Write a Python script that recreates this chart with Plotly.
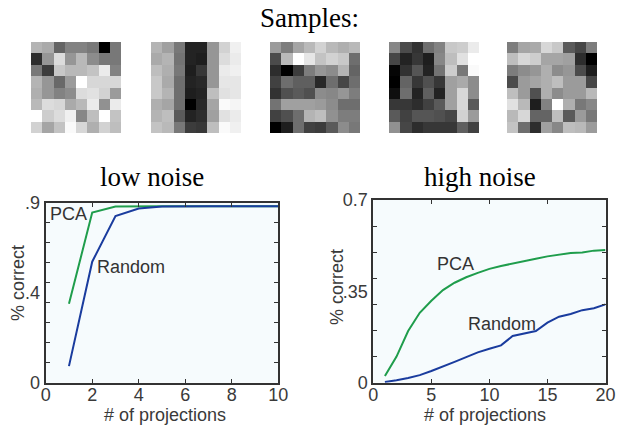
import plotly.graph_objects as go

# ---------------- data ----------------
sample1 = [
    [180, 170, 100, 130, 130, 120, 0, 120],
    [45, 150, 220, 150, 185, 140, 120, 120],
    [120, 60, 200, 185, 185, 195, 235, 130],
    [180, 150, 105, 155, 255, 215, 215, 215],
    [175, 150, 130, 140, 220, 225, 210, 155],
    [185, 220, 215, 170, 185, 235, 145, 235],
    [255, 205, 220, 240, 135, 190, 255, 195],
    [210, 165, 195, 250, 215, 175, 210, 190],
]
sample2 = [
    [180, 160, 120, 35, 35, 150, 210, 240],
    [170, 180, 115, 35, 30, 150, 220, 235],
    [190, 175, 120, 30, 55, 150, 235, 240],
    [200, 170, 110, 35, 40, 150, 230, 230],
    [200, 180, 110, 30, 35, 190, 225, 230],
    [175, 165, 110, 0, 40, 165, 250, 245],
    [180, 190, 90, 35, 45, 160, 225, 235],
    [195, 185, 120, 60, 55, 190, 250, 240],
]
sample3 = [
    [155, 125, 165, 185, 210, 185, 175, 185],
    [75, 185, 255, 230, 195, 210, 200, 110],
    [45, 0, 60, 125, 150, 140, 180, 100],
    [65, 110, 95, 95, 40, 110, 70, 110],
    [50, 80, 90, 80, 140, 135, 150, 125],
    [115, 160, 160, 160, 155, 140, 110, 110],
    [65, 80, 110, 180, 190, 145, 125, 125],
    [0, 30, 110, 65, 60, 90, 140, 120],
]
sample4 = [
    [135, 75, 50, 110, 130, 200, 205, 235],
    [70, 35, 55, 30, 135, 190, 225, 255],
    [5, 50, 85, 35, 115, 205, 120, 250],
    [0, 100, 55, 80, 55, 160, 170, 140],
    [15, 110, 35, 95, 35, 160, 215, 140],
    [55, 55, 45, 65, 90, 160, 215, 90],
    [90, 65, 85, 85, 80, 70, 210, 155],
    [145, 70, 45, 55, 55, 55, 95, 65],
]
sample5 = [
    [125, 165, 170, 215, 200, 90, 70, 125],
    [190, 215, 205, 165, 165, 160, 45, 0],
    [125, 140, 150, 175, 140, 150, 75, 30],
    [75, 155, 165, 175, 190, 155, 155, 70],
    [190, 155, 80, 175, 140, 155, 155, 185],
    [225, 185, 30, 130, 255, 175, 120, 135],
    [185, 215, 100, 100, 190, 90, 155, 120],
    [195, 110, 45, 160, 135, 190, 185, 155],
]

low_x = [1, 2, 3, 4, 5, 6, 7, 8, 9, 10]
low_pca = [0.395, 0.852, 0.882, 0.884, 0.884, 0.884, 0.884, 0.884, 0.884, 0.884]
low_random = [0.083, 0.606, 0.835, 0.872, 0.882, 0.884, 0.884, 0.884, 0.884, 0.884]

high_x = list(range(1, 21))
high_pca = [0.026, 0.100, 0.198, 0.268, 0.314, 0.355, 0.383, 0.404, 0.421, 0.436,
            0.447, 0.457, 0.467, 0.475, 0.484, 0.490, 0.497, 0.499, 0.506, 0.508]
high_random = [0.003, 0.009, 0.018, 0.029, 0.045, 0.061, 0.080, 0.098, 0.116, 0.130,
               0.143, 0.179, 0.189, 0.198, 0.230, 0.253, 0.263, 0.278, 0.285, 0.300]

low_xticks = [0, 2, 4, 6, 8, 10]
low_yticks = [0, 0.45, 0.9]
low_yticktext = ["0", ".4", ".9"]
high_xticks = [0, 5, 10, 15, 20]
high_yticks = [0, 0.35, 0.7]
high_yticktext = ["0", ".35", "0.7"]

# ---------------- layout helpers ----------------
W, H = 618, 426
GREEN = "#1f9d4c"
BLUE = "#1a3c9e"
FRAME = "#333333"
BG = "#f6fbfd"
SANS = "Liberation Sans, Arial, sans-serif"
SERIF = "Liberation Serif, Times New Roman, serif"
TXT = "#3a3a3a"

def px(x):
    return x / W

def py(y):
    return (H - y) / H

fig = go.Figure()

# sample images
samples = [sample1, sample2, sample3, sample4, sample5]
starts = [31, 151, 270, 389, 507]
for i, (s, x0) in enumerate(zip(samples, starts)):
    k = i + 3
    fig.add_trace(go.Heatmap(
        z=s, colorscale=[[0, "black"], [1, "white"]], zmin=0, zmax=255,
        showscale=False, xaxis=f"x{k}", yaxis=f"y{k}", hoverinfo="skip"))
    fig.update_layout(**{
        f"xaxis{k}": dict(domain=[px(x0), px(x0 + 90)], visible=False, automargin=False,
                          range=[-0.5, 7.5], anchor=f"y{k}", fixedrange=True),
        f"yaxis{k}": dict(domain=[py(133), py(42)], visible=False, automargin=False,
                          range=[7.5, -0.5], anchor=f"x{k}", fixedrange=True),
    })

# curves
fig.add_trace(go.Scatter(x=low_x, y=low_pca, mode="lines",
                         line=dict(color=GREEN, width=2), xaxis="x", yaxis="y"))
fig.add_trace(go.Scatter(x=low_x, y=low_random, mode="lines",
                         line=dict(color=BLUE, width=2), xaxis="x", yaxis="y"))
fig.add_trace(go.Scatter(x=high_x, y=high_pca, mode="lines",
                         line=dict(color=GREEN, width=2), xaxis="x2", yaxis="y2"))
fig.add_trace(go.Scatter(x=high_x, y=high_random, mode="lines",
                         line=dict(color=BLUE, width=2), xaxis="x2", yaxis="y2"))

axis_common = dict(showline=True, linecolor=FRAME, linewidth=2, mirror="ticks",
                   showgrid=False, zeroline=False, ticks="inside", ticklen=4,
                   tickcolor=FRAME, fixedrange=True, automargin=False)
xfont = dict(family=SANS, size=18, color=TXT)
yfont = dict(family=SANS, size=18, color=TXT)
yminor = dict(dtick=0.1, tick0=0, ticks="inside", ticklen=4, tickcolor=FRAME)

fig.update_layout(
    xaxis=dict(axis_common, domain=[px(45.7), px(278.3)], range=[0, 10],
               tickvals=low_xticks, anchor="y", ticklabelstandoff=-5, tickfont=xfont),
    yaxis=dict(axis_common, domain=[py(382.7), py(203)], range=[0, 0.9],
               tickvals=low_yticks, ticktext=low_yticktext, ticklen=0, anchor="x",
               ticklabelstandoff=0, tickfont=yfont, minor=yminor),
    xaxis2=dict(axis_common, domain=[px(373.3), px(605.5)], range=[0, 20],
                tickvals=high_xticks, anchor="y2", ticklabelstandoff=-5, tickfont=xfont),
    yaxis2=dict(axis_common, domain=[py(382.7), py(200)], range=[0, 0.7],
                tickvals=high_yticks, ticktext=high_yticktext, ticklen=0, anchor="x2",
                ticklabelstandoff=0, tickfont=yfont, minor=yminor),
)

annotations = [
    # titles
    dict(text="Samples:", x=px(309), y=py(18), font=dict(family=SERIF, size=27, color="black")),
    dict(text="low noise", x=px(152), y=py(177), font=dict(family=SERIF, size=27, color="black")),
    dict(text="high noise", x=px(480), y=py(177), font=dict(family=SERIF, size=27, color="black")),
    # axis titles
    dict(text="% correct", x=px(18), y=py(283), textangle=-90,
         font=dict(family=SANS, size=18, color=TXT)),
    dict(text="% correct", x=px(337), y=py(287), textangle=-90,
         font=dict(family=SANS, size=18, color=TXT)),
    dict(text="# of projections", x=px(165), y=py(415),
         font=dict(family=SANS, size=18, color=TXT)),
    dict(text="# of projections", x=px(485), y=py(415),
         font=dict(family=SANS, size=18, color=TXT)),
]
for a in annotations:
    a.update(xref="paper", yref="paper", showarrow=False, xanchor="center", yanchor="middle")

curve_labels = [
    dict(text="PCA", x=0.99, y=0.843, xref="x", yref="y"),
    dict(text="Random", x=3.67, y=0.581, xref="x", yref="y"),
    dict(text="PCA", x=7.1, y=0.455, xref="x2", yref="y2"),
    dict(text="Random", x=11.06, y=0.225, xref="x2", yref="y2"),
]
for a in curve_labels:
    a.update(showarrow=False, xanchor="center", yanchor="middle",
             font=dict(family=SANS, size=18, color="#333333"))

fig.update_layout(
    width=W, height=H, margin=dict(l=0, r=0, t=0, b=0, autoexpand=False),
    paper_bgcolor="white", plot_bgcolor=BG, showlegend=False,
    annotations=annotations + curve_labels,
)

fig.write_html("out.html", config={"displayModeBar": False},
               post_script="document.body.style.margin='0';document.body.style.padding='0';")
